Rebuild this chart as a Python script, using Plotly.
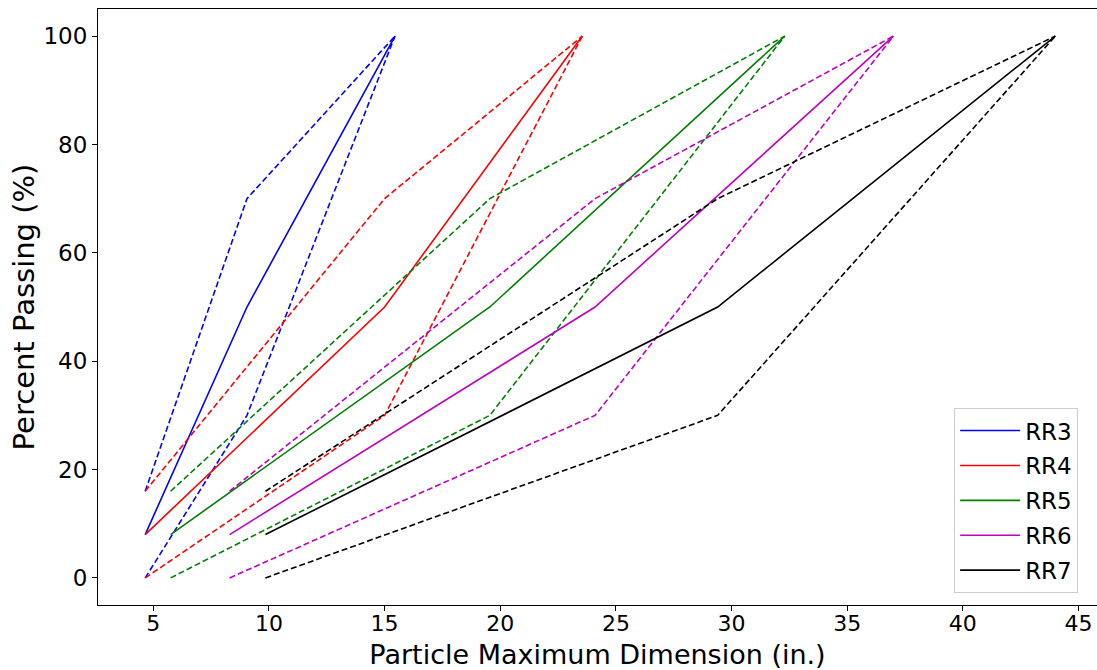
import plotly.graph_objects as go

# particle size gradation per rock riprap class
series_names = ["RR3", "RR4", "RR5", "RR6", "RR7"]
series_colors = ["#0000ff", "#ff0000", "#008000", "#bf00bf", "#000000"]

# maximum dimension (in.) at the three gradation points
x_start = [4.65, 4.65, 5.75, 8.3, 9.85]
x_mid = [9.05, 15.0, 19.55, 24.1, 29.4]
x_end = [15.45, 23.55, 32.3, 37.0, 44.0]

# percent passing at those points: target, upper and lower limits
pct_target = [8, 50, 100]
pct_upper = [16, 70, 100]
pct_lower = [0, 30, 100]

FONT = "DejaVu Sans"

fig = go.Figure()
for i, name in enumerate(series_names):
    xs = [x_start[i], x_mid[i], x_end[i]]
    color = series_colors[i]
    fig.add_trace(
        go.Scatter(
            x=xs,
            y=pct_target,
            mode="lines",
            line=dict(color=color, width=1.6),
            name=name,
            legendgroup=name,
        )
    )
    for limit in (pct_upper, pct_lower):
        fig.add_trace(
            go.Scatter(
                x=xs,
                y=limit,
                mode="lines",
                line=dict(color=color, width=1.6, dash="6px,3px"),
                legendgroup=name,
                showlegend=False,
                hoverinfo="skip",
            )
        )

fig.update_layout(
    width=1097,
    height=670,
    margin=dict(l=98, r=0, t=9, b=65),
    paper_bgcolor="white",
    plot_bgcolor="white",
    font=dict(family=FONT, size=23, color="black"),
    xaxis=dict(
        range=[2.61, 45.80],
        tickvals=[5, 10, 15, 20, 25, 30, 35, 40, 45],
        showgrid=False,
        zeroline=False,
        showline=True,
        linecolor="black",
        linewidth=1,
        mirror=True,
        ticks="outside",
        ticklen=5,
        tickcolor="black",
        tickfont=dict(size=22),
        ticklabelstandoff=-6,
        title=dict(text="Particle Maximum Dimension (in.)", font=dict(size=27), standoff=9),
    ),
    yaxis=dict(
        range=[-5, 105],
        tickvals=[0, 20, 40, 60, 80, 100],
        showgrid=False,
        zeroline=False,
        showline=True,
        linecolor="black",
        linewidth=1,
        ticks="outside",
        ticklen=5,
        tickcolor="black",
        tickfont=dict(size=23),
        title=dict(text="Percent Passing (%)", font=dict(size=29), standoff=0),
    ),
    legend=dict(
        x=0.857,
        y=0.02,
        xanchor="left",
        yanchor="bottom",
        bgcolor="white",
        bordercolor="#cccccc",
        borderwidth=1,
        font=dict(size=23),
        traceorder="grouped",
        tracegroupgap=2,
        itemwidth=60,
    ),
)

fig.write_html(
    "out.html",
    config={"displayModeBar": False},
    post_script="document.body.style.margin='0';",
)
